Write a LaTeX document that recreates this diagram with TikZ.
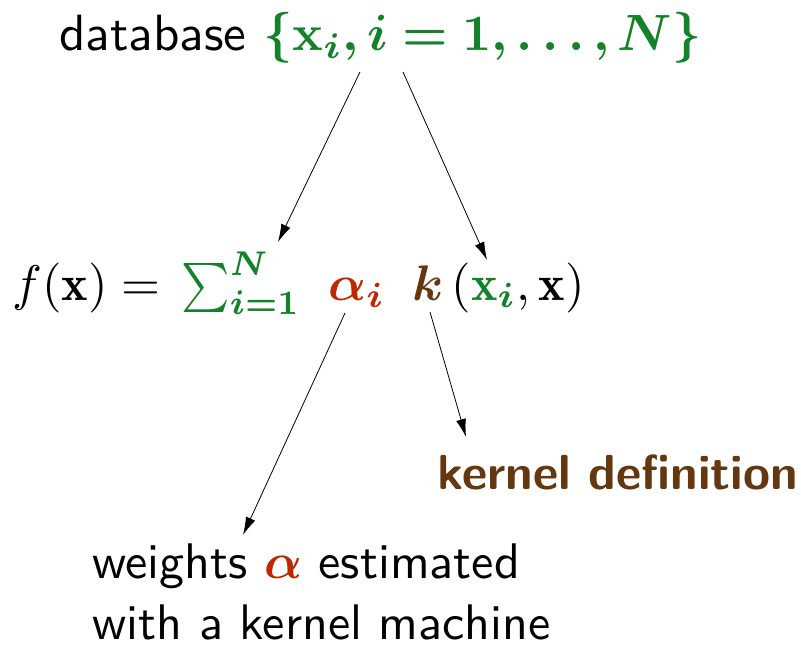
\documentclass[tikz,border=0pt]{standalone}
\usepackage{amsmath,bm,graphicx}
\usepackage{fontspec}
\usetikzlibrary{arrows.meta}
\definecolor{dbgreen}{RGB}{20,130,40}
\definecolor{alphared}{RGB}{190,40,0}
\definecolor{kbrown}{RGB}{100,55,15}
\newcommand{\bigtxt}[2][2.5]{\scalebox{#1}{#2}}
\begin{document}
\begin{tikzpicture}[x=0.5pt,y=-0.5pt,
  txt/.style={inner sep=0pt, anchor=base west, font=\fontsize{10}{12}\selectfont\sffamily},
  conn/.style={-{Latex[length=9pt,width=5pt]}, line width=0.4pt}]
\useasboundingbox (0,0) rectangle (801,646);
\node[txt] (db) at (59,51) {\bigtxt[2.55]{database \textcolor{dbgreen}{$\bm{\{\mathbf{x}_i, i=1,\ldots,N\}}$}}};
\node[txt] (fx) at (12,300) {\bigtxt{$f(\mathbf{x}) =$}};
\node[txt] (sum) at (181,300) {\scalebox{2.3}[2.45]{\textcolor{dbgreen}{$\sum_{\bm{i=1}}^{\bm{N}}$}}};
\node[txt] (alpha) at (328,300) {\bigtxt{\textcolor{alphared}{$\bm{\alpha_i}$}}};
\node[txt] (k) at (412,300) {\bigtxt{$\textcolor{kbrown}{\bm{k}}\,(\textcolor{dbgreen}{\mathbf{x}_{\bm{i}}}, \mathbf{x})$}};
\node[txt, font=\fontsize{10}{12}\selectfont\sffamily\bfseries, text=kbrown] (kd) at (437,489) {\bigtxt[2.46]{kernel definition}};
\node[txt] (w1) at (92,578) {\bigtxt{weights \textcolor{alphared}{$\bm{\alpha}$} estimated}};
\node[txt] (w2) at (92,639) {\bigtxt{with a kernel machine}};
\coordinate (a1) at (360,72); \coordinate (a2) at (278,242);
\coordinate (b1) at (403,72); \coordinate (b2) at (487,260);
\coordinate (c1) at (345,313); \coordinate (c2) at (243,535);
\coordinate (d1) at (430,312); \coordinate (d2) at (466,437);
\draw[conn] (a1) -- (a2);
\draw[conn] (b1) -- (b2);
\draw[conn] (c1) -- (c2);
\draw[conn] (d1) -- (d2);
\end{tikzpicture}
\end{document}
